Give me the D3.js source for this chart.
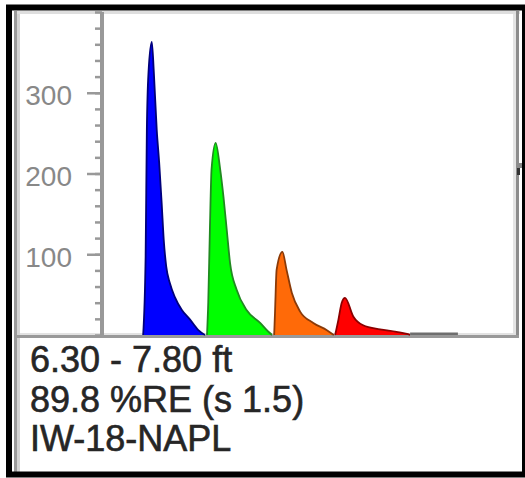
<!DOCTYPE html>
<html>
<head>
<meta charset="utf-8">
<script src="https://cdn.jsdelivr.net/npm/d3@7"></script>
<style>
  html, body { margin: 0; padding: 0; background: #fff; }
  svg { display: block; }
</style>
</head>
<body>
<svg id="chart" width="525" height="478"></svg>
<script>
// peaks: [time, response]
const bluePeak = [[9.5, 0], [10.1, 97], [10.4, 254], [10.8, 325], [11.6, 363], [12.1, 325],
  [12.8, 254], [13.4, 213], [14.0, 163], [14.5, 118], [15.1, 85], [16.0, 64], [17.2, 47],
  [18.9, 31], [20.9, 19], [22.9, 6], [24.5, 0]];
const greenPeak = [[25.0, 0], [25.3, 40], [25.7, 130], [26.1, 205], [27.1, 238], [28.2, 205],
  [29.0, 171], [29.8, 130], [30.6, 89], [32.2, 56], [34.6, 31], [37.9, 15], [39.9, 4], [40.8, 0]];
const orangePeak = [[41.3, 0], [41.5, 27], [41.9, 81], [43.3, 103], [44.3, 81], [45.6, 52],
  [47.6, 29], [50.8, 15], [54.1, 6], [55.8, 0]];
const redPeak = [[56.1, 0], [56.9, 19], [57.7, 40], [58.5, 46], [60.5, 23], [62.9, 12],
  [67.0, 7], [71.0, 4], [73.8, 1], [74.3, 0]];
const tailTrace = [[74.3, 3], [85.9, 3]];

const minorTicks = d3.range(0, 401, 20);
const majorTicks = [100, 200, 300];
const infoLines = ['6.30 - 7.80 ft', '89.8 %RE (s 1.5)', 'IW-18-NAPL'];

const peaks = [
  { data: bluePeak, fill: '#0000ff', stroke: '#00007a' },
  { data: greenPeak, fill: '#00ff00', stroke: '#208a20' },
  { data: orangePeak, fill: '#ff6a08', stroke: '#8a3a08' },
  { data: redPeak, fill: '#ff0000', stroke: '#8a0000' },
  { data: tailTrace, fill: '#6e6e6e', stroke: 'none' },
];

const x = d3.scaleLinear().domain([0, 100]).range([104, 516]);
const y = d3.scaleLinear().domain([0, 400]).range([335, 12]);

const svg = d3.select('#chart');

svg.append('rect').attr('width', 525).attr('height', 478).attr('fill', '#fff');

// panel edges
const edges = svg.append('g');
edges.append('rect').attr('x', 14).attr('y', 11).attr('width', 506).attr('height', 3).attr('fill', '#dedede');
edges.append('rect').attr('x', 14).attr('y', 11).attr('width', 3).attr('height', 463).attr('fill', '#9a9a9a');
edges.append('rect').attr('x', 17).attr('y', 14).attr('width', 3).attr('height', 460).attr('fill', '#d4d4d4');
edges.append('rect').attr('x', 513).attr('y', 14).attr('width', 3).attr('height', 320).attr('fill', '#e4e4e4');
edges.append('rect').attr('x', 516).attr('y', 11).attr('width', 3).attr('height', 327).attr('fill', '#8c8c8c');
edges.append('rect').attr('x', 20).attr('y', 333).attr('width', 496).attr('height', 2).attr('fill', '#e2e2e2');
edges.append('rect').attr('x', 14).attr('y', 335).attr('width', 505).attr('height', 3).attr('fill', '#999');

// little mark on the right edge
edges.append('rect').attr('x', 519).attr('y', 163).attr('width', 6).attr('height', 5).attr('fill', '#888');
edges.append('rect').attr('x', 517).attr('y', 168).attr('width', 3).attr('height', 7).attr('fill', '#333');

const area = d3.area()
  .x((d) => x(d[0]))
  .y0(y(0))
  .y1((d) => y(d[1]))
  .curve(d3.curveMonotoneX);

const line = d3.line()
  .x((d) => x(d[0]))
  .y((d) => y(d[1]))
  .curve(d3.curveMonotoneX);

const peakGroups = svg.append('g')
  .selectAll('g')
  .data(peaks)
  .enter()
  .append('g');

peakGroups.append('path')
  .attr('d', (d) => area(d.data))
  .attr('fill', (d) => d.fill);

peakGroups.append('path')
  .attr('d', (d) => line(d.data))
  .attr('fill', 'none')
  .attr('stroke', (d) => d.stroke)
  .attr('stroke-width', 1.8)
  .attr('stroke-linejoin', 'round');

// y axis
svg.append('rect').attr('x', 100).attr('y', 12).attr('width', 4).attr('height', 326).attr('fill', '#999');

svg.append('g')
  .attr('transform', 'translate(102,0)')
  .call(d3.axisLeft(y).tickValues(minorTicks).tickSize(7).tickFormat(''))
  .call((g) => g.select('.domain').remove())
  .call((g) => g.selectAll('line').attr('stroke', '#999').attr('stroke-width', 2.5));

svg.append('g')
  .attr('transform', 'translate(102,0)')
  .call(d3.axisLeft(y).tickValues(majorTicks).tickSize(15).tickPadding(15))
  .call((g) => g.select('.domain').remove())
  .call((g) => g.selectAll('line').attr('stroke', '#999').attr('stroke-width', 2.5))
  .call((g) => g.selectAll('text')
    .attr('dy', '0.42em')
    .attr('fill', '#888')
    .style('font-family', '"Liberation Sans", Arial, sans-serif')
    .style('font-size', '28px'));

// sample info
svg.append('g')
  .selectAll('text')
  .data(infoLines)
  .enter()
  .append('text')
  .attr('x', 30)
  .attr('y', (d, i) => 372 + i * 39.5)
  .attr('fill', '#262626')
  .attr('stroke', '#262626')
  .attr('stroke-width', 0.6)
  .style('font-family', '"Liberation Sans", Arial, sans-serif')
  .style('font-size', '36px')
  .text((d) => d);

// outer frame
svg.append('rect')
  .attr('x', 9).attr('y', 7.5)
  .attr('width', 516).attr('height', 467)
  .attr('fill', 'none')
  .attr('stroke', '#000')
  .attr('stroke-width', 6);
</script>
</body>
</html>
